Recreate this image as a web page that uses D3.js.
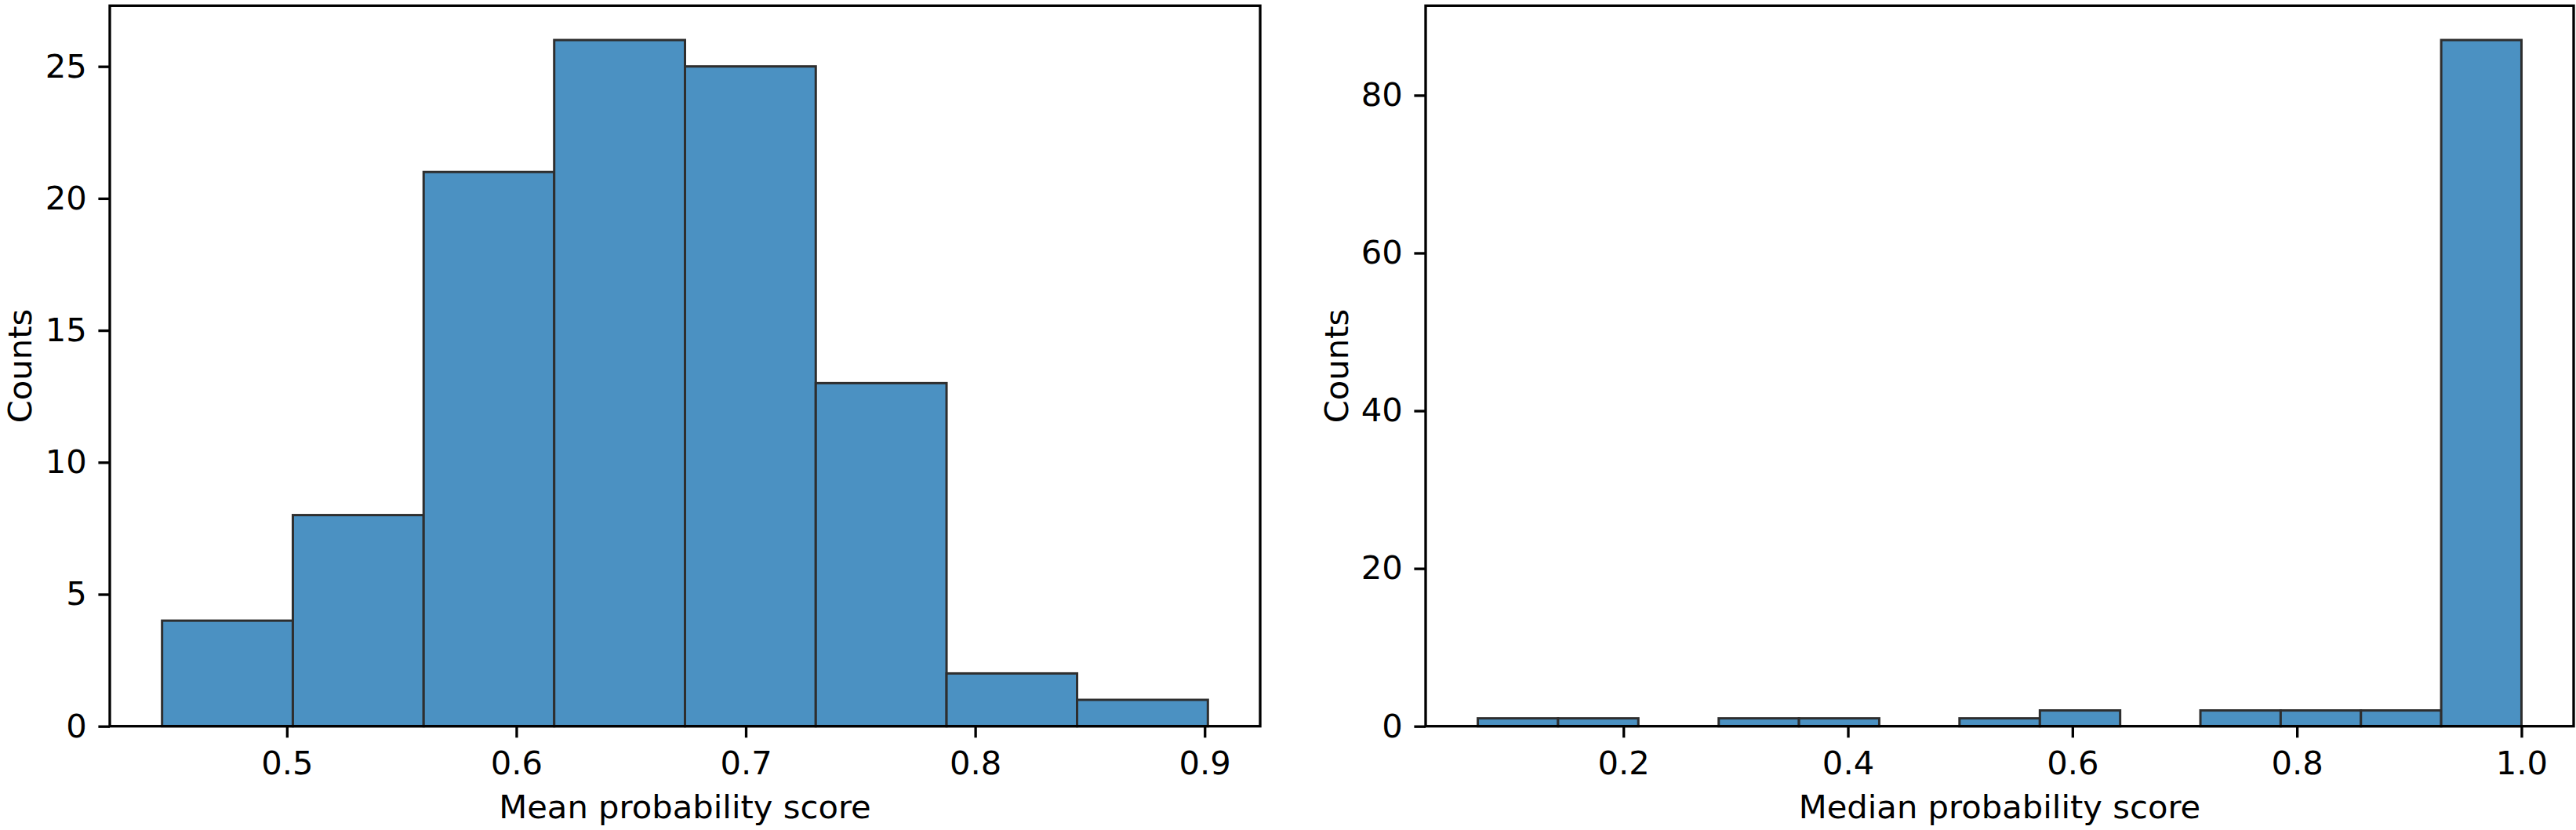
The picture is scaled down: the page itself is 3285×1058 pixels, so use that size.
<!DOCTYPE html>
<html>
<head>
<meta charset="utf-8">
<script src="https://cdn.jsdelivr.net/npm/d3@7"></script>
<style>
  html, body { margin: 0; padding: 0; background: #fff; }
  svg { display: block; }
  text { font-family: "DejaVu Sans", sans-serif; }
</style>
</head>
<body>
<svg id="chart"></svg>
<script>
// Left histogram: mean probability score
const meanEdges = [0.4456, 0.5026, 0.5596, 0.6165, 0.6735, 0.7305, 0.7875, 0.8444, 0.9014];
const meanCounts = [4, 8, 21, 26, 25, 13, 2, 1];
const meanXTicks = [0.5, 0.6, 0.7, 0.8, 0.9];
const meanYTicks = [0, 5, 10, 15, 20, 25];

// Right histogram: median probability score
const medianEdges = [0.0703, 0.1418, 0.2133, 0.2849, 0.3564, 0.4279, 0.4994, 0.5710, 0.6425, 0.7140, 0.7855, 0.8570, 0.9285, 1.0000];
const medianCounts = [1, 1, 0, 1, 1, 0, 1, 2, 0, 2, 2, 2, 87];
const medianXTicks = [0.2, 0.4, 0.6, 0.8, 1.0];
const medianYTicks = [0, 20, 40, 60, 80];

const W = 3285, H = 1058;
const fontSize = 41.7;
const lw = 3.33;      // 0.8pt at 300 dpi
const tickLen = 14.6; // 3.5pt
const tickPad = 14.6;

const svg = d3.select("#chart").attr("width", W).attr("height", H);

function drawHist(panel) {
  const { edges, counts, xTicks, yTicks, x0, x1, y0, y1, xLabel, yLabelX, xFmt } = panel;

  // matplotlib-style 5% margin on x, top margin on y
  const lo = edges[0], hi = edges[edges.length - 1];
  const pad = (hi - lo) * 0.05;
  const x = d3.scaleLinear().domain([lo - pad, hi + pad]).range([x0, x1]);
  const y = d3.scaleLinear().domain([0, d3.max(counts) * 1.05]).range([y1, y0]);

  const g = svg.append("g");

  const bins = counts.map((c, i) => ({ a: edges[i], b: edges[i + 1], c }));

  // Bars (zero-count bins still drawn as flat outlines like seaborn)
  g.selectAll("rect.bar")
    .data(bins.filter(d => d.c > 0))
    .enter()
    .append("rect")
      .attr("class", "bar")
      .attr("x", d => x(d.a))
      .attr("y", d => y(d.c))
      .attr("width", d => x(d.b) - x(d.a))
      .attr("height", d => y(0) - y(d.c))
      .attr("fill", "#4b91c2")
      .attr("stroke", "#2e2e2e")
      .attr("stroke-width", 3);

  // Bottom axis
  const ax = g.append("g")
    .attr("transform", `translate(0,${y1})`)
    .call(d3.axisBottom(x).tickValues(xTicks).tickFormat(xFmt)
      .tickSize(tickLen).tickPadding(tickPad));
  ax.select(".domain").remove();
  ax.selectAll("line").attr("stroke", "#000").attr("stroke-width", lw);
  ax.selectAll("text").attr("font-size", fontSize).attr("fill", "#000")
    .attr("dy", "0.76em");

  // Left axis
  const ay = g.append("g")
    .attr("transform", `translate(${x0},0)`)
    .call(d3.axisLeft(y).tickValues(yTicks).tickFormat(d3.format("d"))
      .tickSize(tickLen).tickPadding(tickPad));
  ay.select(".domain").remove();
  ay.selectAll("line").attr("stroke", "#000").attr("stroke-width", lw);
  ay.selectAll("text").attr("font-size", fontSize).attr("fill", "#000");

  // Spines
  g.append("rect")
    .attr("x", x0).attr("y", y0)
    .attr("width", x1 - x0).attr("height", y1 - y0)
    .attr("fill", "none")
    .attr("stroke", "#000")
    .attr("stroke-width", lw);

  // Axis labels
  g.append("text")
    .attr("x", (x0 + x1) / 2)
    .attr("y", 1043)
    .attr("text-anchor", "middle")
    .attr("font-size", fontSize)
    .text(xLabel);

  g.append("text")
    .attr("transform", `translate(${yLabelX},${(y0 + y1) / 2}) rotate(-90)`)
    .attr("text-anchor", "middle")
    .attr("font-size", fontSize)
    .text("Counts");
}

drawHist({
  edges: meanEdges, counts: meanCounts, xTicks: meanXTicks, yTicks: meanYTicks,
  x0: 140, x1: 1607, y0: 7.3, y1: 925.7,
  xLabel: "Mean probability score", yLabelX: 40, xFmt: d3.format(".1f")
});

drawHist({
  edges: medianEdges, counts: medianCounts, xTicks: medianXTicks, yTicks: medianYTicks,
  x0: 1818, x1: 3282, y0: 7.3, y1: 925.7,
  xLabel: "Median probability score", yLabelX: 1719, xFmt: d3.format(".1f")
});
</script>
</body>
</html>
